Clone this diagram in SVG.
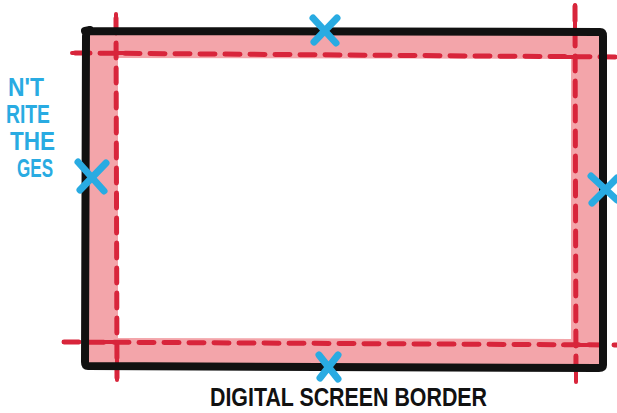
<svg xmlns="http://www.w3.org/2000/svg" width="617" height="413" viewBox="0 0 617 413">
<style>
.guide{fill:none;stroke:#D8253B;stroke-width:5;stroke-linecap:round;stroke-dasharray:15 10}
.tick{fill:none;stroke:#D8253B;stroke-width:4;stroke-linecap:round}
.x{fill:none;stroke:#29ABE2;stroke-width:7;stroke-linecap:round}
.blue{font-family:"Liberation Sans",Arial,sans-serif;font-weight:bold;fill:#29ABE2;font-size:25px}
.lbl{font-family:"Liberation Sans",Arial,sans-serif;font-weight:bold;fill:#111;font-size:26px}
</style>
<rect width="617" height="413" fill="#fff"/>
<g id="bleed">
<path d="M86 31 L602 32 L602 367 L86 365 Z M118 58 L571 59 L571 339 L118 338 Z" fill="#F3A5AA" fill-rule="evenodd"/>
</g>
<g id="guides">
<path class="guide" d="M116 18 L117 378"/>
<path class="guide" d="M575 6 L576 380"/>
<path class="guide" d="M75 53 L617 57"/>
<path class="guide" d="M64 342 L617 345"/>
<path class="tick" d="M116 14 L116 30 M575 5 L575 28 M105 53 L128 53 M563 57 L588 57 M105 342 L128 342 M563 345 L590 345 M117 360 L117 380 M576 360 L576 382 M72 53 L82 53 M64 342 L76 342"/>
</g>
<g id="frame">
<path d="M85 31 L600 32 Q603 32 603 36 L603 365 Q603 368 599 368 L88 366 Q85 366 85 362 L86 36 Q86 31 90 30 Z" fill="none" stroke="#111" stroke-width="8" stroke-linejoin="round"/>
</g>
<g id="markers">
<path class="x" d="M313 18 L336 43 M337 18 L314 42"/>
<path class="x" d="M78 162 L104 191 M106 163 L80 190"/>
<path class="x" d="M591 176 L617 200 M617 178 L592 203"/>
<path class="x" d="M319 355 L338 379 M338 355 L320 378"/>
</g>
<g id="labels">
<text class="blue" x="8" y="96" textLength="36" lengthAdjust="spacingAndGlyphs">N'T</text>
<text class="blue" x="6" y="123" textLength="44" lengthAdjust="spacingAndGlyphs">RITE</text>
<text class="blue" x="10" y="150" textLength="45" lengthAdjust="spacingAndGlyphs">THE</text>
<text class="blue" x="17" y="177" textLength="36" lengthAdjust="spacingAndGlyphs">GES</text>
<text class="lbl" x="210" y="406" textLength="277" lengthAdjust="spacingAndGlyphs">DIGITAL SCREEN BORDER</text>
</g>
</svg>
